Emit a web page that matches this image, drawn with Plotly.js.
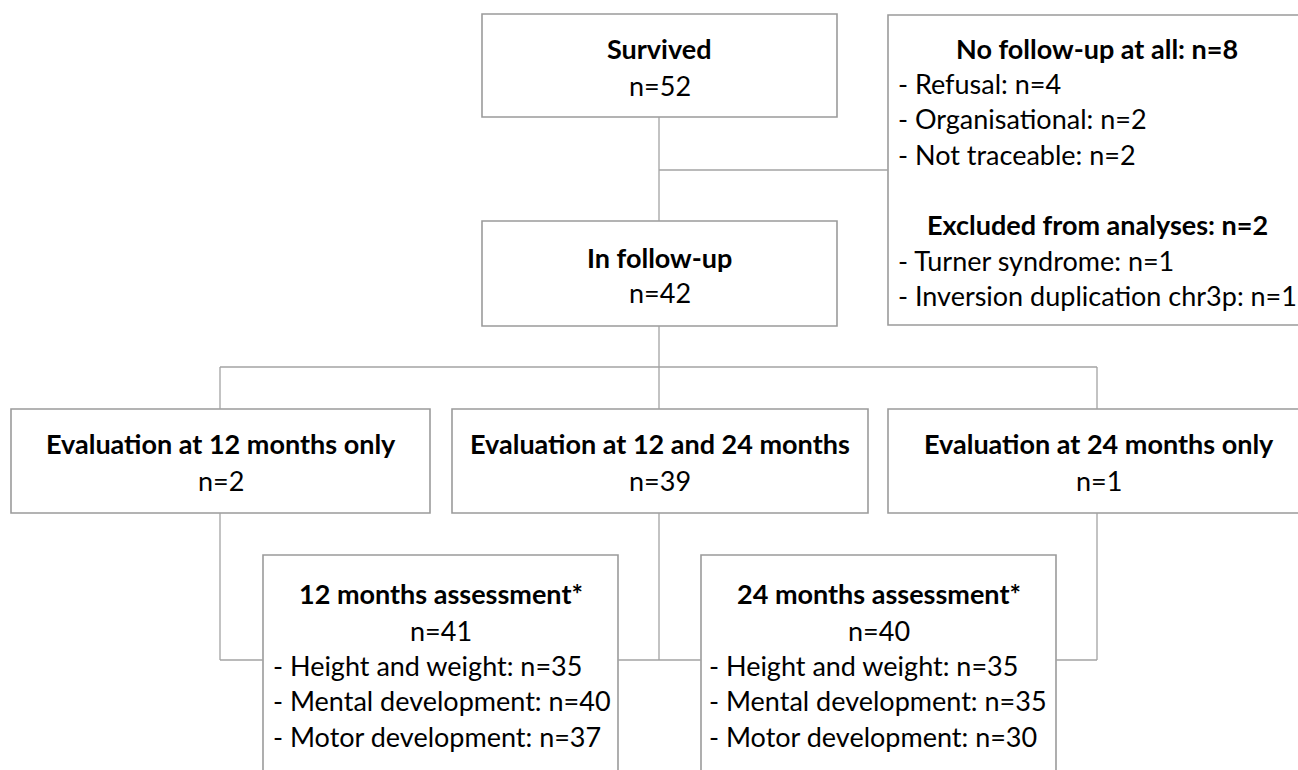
<!DOCTYPE html>
<html>
<head>
<meta charset="utf-8">
<script src="https://cdn.plot.ly/plotly-3.0.1.min.js"></script>
<style>html,body{margin:0;padding:0;background:#fff;}#chart{width:1298px;height:770px;}</style>
</head>
<body>
<div id="chart"></div>
<script>
// ---- data ----
const stageNames = ["Survived", "In follow-up", "Evaluation at 12 months only", "Evaluation at 12 and 24 months", "Evaluation at 24 months only", "12 months assessment*", "24 months assessment*"];
const stageN = [52, 42, 2, 39, 1, 41, 40];
const noFollowUpTitle = "No follow-up at all";
const noFollowUpTotal = 8;
const noFollowUpReasons = ["Refusal", "Organisational", "Not traceable"];
const noFollowUpN = [4, 2, 2];
const excludedTitle = "Excluded from analyses";
const excludedTotal = 2;
const excludedReasons = ["Turner syndrome", "Inversion duplication chr3p"];
const excludedN = [1, 1];
const assessItems = ["Height and weight", "Mental development", "Motor development"];
const assess12N = [35, 40, 37];
const assess24N = [35, 35, 30];

// ---- layout geometry (pixels, y downwards) ----
const boxes = [
  {x0: 482, x1: 837, y0: 14, y1: 117},     // survived
  {x0: 482, x1: 837, y0: 221, y1: 326},    // follow-up
  {x0: 11, x1: 430, y0: 409, y1: 513},     // eval 12 only
  {x0: 452, x1: 868, y0: 409, y1: 513},    // eval 12 & 24
  {x0: 888, x1: 1310, y0: 409, y1: 513},   // eval 24 only
  {x0: 263, x1: 618, y0: 555, y1: 800},    // 12 mo assessment
  {x0: 701, x1: 1056, y0: 555, y1: 800}    // 24 mo assessment
];
const sideBox = {x0: 888, x1: 1310, y0: 15, y1: 325};

const lines = [
  [659, 117, 659, 221],
  [659, 170, 888, 170],
  [659, 326, 659, 409],
  [220, 367, 1097, 367],
  [220, 367, 220, 409],
  [1097, 367, 1097, 409],
  [220, 513, 220, 660],
  [220, 660, 263, 660],
  [659, 513, 659, 660],
  [618, 660, 701, 660],
  [1097, 513, 1097, 660],
  [1056, 660, 1097, 660]
];

const FONT = "Lato, 'Open Sans', sans-serif";
const FS = 27;
const boxColor = "#9b9b9b";
const lineColor = "#a3a3a3";

const shapes = [];
boxes.concat([sideBox]).forEach(b => shapes.push({
  type: "rect", xref: "x", yref: "y", x0: b.x0, x1: b.x1, y0: b.y0, y1: b.y1,
  line: {color: boxColor, width: 1.6}, fillcolor: "rgba(0,0,0,0)", layer: "above"
}));
lines.forEach(l => shapes.push({
  type: "line", xref: "x", yref: "y", x0: l[0], y0: l[1], x1: l[2], y1: l[3],
  line: {color: lineColor, width: 1.3}, layer: "above"
}));

const annotations = [];
function txt(s, x, y, bold, align) {
  annotations.push({
    xref: "x", yref: "y", x: x, y: y, text: bold ? "<b>" + s + "</b>" : s,
    showarrow: false, xanchor: align || "center", yanchor: "middle",
    font: {family: FONT, size: FS, color: "#000"}
  });
}

// stage boxes: title + n
const titleY = [48, 257, 443, 443, 443, 593, 593];
const nY = [85, 292, 480, 480, 480, 630, 630];
const centerX = [659.5, 659.5, 220.5, 660, 1099, 440.5, 878.5];
stageNames.forEach((name, i) => {
  txt(name, centerX[i], titleY[i], true);
  txt("n=" + stageN[i], centerX[i], nY[i], false);
});

// assessment lists
const itemY = [665, 700, 736];
assessItems.forEach((it, i) => {
  txt("- " + it + ": n=" + assess12N[i], 271, itemY[i], false, "left");
  txt("- " + it + ": n=" + assess24N[i], 707, itemY[i], false, "left");
});

// side box
txt(noFollowUpTitle + ": n=" + noFollowUpTotal, 1097, 48, true);
const nfY = [83, 118, 154];
noFollowUpReasons.forEach((r, i) => txt("- " + r + ": n=" + noFollowUpN[i], 896, nfY[i], false, "left"));
txt(excludedTitle + ": n=" + excludedTotal, 1097, 224, true);
const exY = [260, 295];
excludedReasons.forEach((r, i) => txt("- " + r + ": n=" + excludedN[i], 896, exY[i], false, "left"));

const layout = {
  width: 1298, height: 770,
  margin: {l: 0, r: 0, t: 0, b: 0},
  paper_bgcolor: "#fff", plot_bgcolor: "#fff",
  xaxis: {range: [0, 1298], visible: false, fixedrange: true},
  yaxis: {range: [770, 0], visible: false, fixedrange: true},
  shapes: shapes, annotations: annotations, showlegend: false
};
Plotly.newPlot("chart", [], layout, {displayModeBar: false, staticPlot: true});
</script>
</body>
</html>
